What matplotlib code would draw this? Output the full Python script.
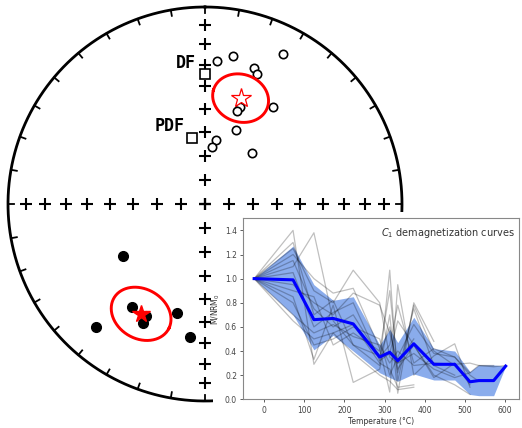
import numpy as np
import matplotlib
matplotlib.use("Agg")
import matplotlib.pyplot as plt
from matplotlib.patches import Rectangle


# --- stereonet data (declination, inclination in degrees; negative inc = upper hemisphere)
up_dec = [4.7, 10.6, 27.4, 19.9, 21.6, 35.2, 20.0, 18.8, 22.5, 9.6, 6.7, 42.3]
up_inc = [-27.8, -24.7, -15.4, -27.6, -29.7, -39.6, -46.5, -48.9, -56.6, -63.1, -66.1, -61.2]
dn_dec = [237.7, 215.4, 207.9, 207.4, 221.6, 194.5, 186.5]
dn_inc = [49.1, 35.9, 35.9, 32.4, 17.5, 42.2, 32.7]
mean_up = (18.6, -42.5)
a95_up = 10.7
mean_dn = (210.2, 35.4)
a95_dn = 11.5
ref_names = ["DF", "PDF"]
ref_dec = [0.0, 349.3]
ref_inc = [-34.5, -61.9]

# --- demagnetization curves
temps = [-25, 72, 124, 172, 222, 288, 313, 333, 373, 423, 475, 513, 535, 572, 602]
mean_curve = [1.0, 0.99, 0.66, 0.67, 0.625, 0.35, 0.39, 0.32, 0.46, 0.29, 0.29, 0.145, 0.155, 0.155, 0.275]
band_hi = [1.0, 1.27, 0.95, 0.82, 0.85, 0.45, 0.58, 0.47, 0.68, 0.42, 0.40, 0.23, 0.285, 0.285, 0.275]
band_lo = [1.0, 0.70, 0.41, 0.53, 0.40, 0.22, 0.18, 0.15, 0.21, 0.16, 0.16, 0.04, 0.03, 0.03, 0.275]
specimens = [
    [1.0, 1.40, 0.29, 0.55, 0.62, 0.30, 0.25, 0.10, 0.12],
    [1.0, 1.10, 1.38, 0.65, 0.45, 0.28, 1.07, 0.15, 0.78, 0.40, 0.28],
    [1.0, 1.25, 0.90, 0.80, 1.07, 0.80, 0.35, 0.30, 0.50],
    [1.0, 0.85, 0.33, 0.78, 0.14, 0.25, 0.70, 0.05, 0.80, 0.48],
    [1.0, 1.20, 1.00, 0.88, 0.92, 0.42, 0.06, 0.95, 0.20, 0.36, 0.46, 0.10],
    [1.0, 0.70, 0.55, 0.62, 0.52, 0.45, 0.30, 0.40, 0.28, 0.30, 0.29, 0.30, 0.28, 0.27, 0.28],
    [1.0, 0.95, 0.80, 0.70, 0.88, 0.78, 0.55, 0.30, 0.38, 0.25, 0.18, 0.22],
    [1.0, 0.65, 0.50, 0.55, 0.38, 0.20, 0.15, 0.08, 0.10],
    [1.0, 1.15, 0.75, 0.60, 0.70, 0.35, 0.45, 0.78, 0.30, 0.42, 0.35, 0.20, 0.15],
    [1.0, 0.90, 0.85, 0.45, 0.55, 0.40, 0.90, 0.25, 0.45, 0.20, 0.12, 0.04],
    [1.0, 1.05, 0.60, 0.72, 0.80, 0.32, 0.38, 0.65, 0.45, 0.18, 0.30, 0.12],
    [1.0, 0.80, 0.45, 0.50, 0.60, 0.50, 0.20, 0.35, 0.62, 0.38, 0.35, 0.22, 0.28, 0.28],
    [1.0, 1.30, 0.70, 0.82, 0.45, 0.36, 0.60, 0.22, 0.75, 0.28, 0.20],
]


def project(dec, inc):
    """Equal-area (Schmidt) projection, unit primitive radius."""
    dec = np.radians(np.asarray(dec, dtype=float))
    inc = np.radians(np.abs(np.asarray(inc, dtype=float)))
    r = np.sqrt(2) * np.sin((np.pi / 2 - inc) / 2)
    return r * np.sin(dec), r * np.cos(dec)


def cone(dec, inc, a95, n=200):
    """Circle of confidence around a direction, returned as projected x, y."""
    d, i, a = np.radians(dec), np.radians(inc), np.radians(a95)
    m = np.array([np.cos(i) * np.cos(d), np.cos(i) * np.sin(d), np.sin(i)])
    u = np.cross(m, [0, 0, 1.0])
    u /= np.linalg.norm(u)
    v = np.cross(m, u)
    t = np.linspace(0, 2 * np.pi, n)
    p = (np.cos(a) * m[:, None] + np.sin(a) * (np.outer(u, np.cos(t)) + np.outer(v, np.sin(t))))
    pdec = np.degrees(np.arctan2(p[1], p[0]))
    pinc = np.degrees(np.arcsin(np.clip(p[2], -1, 1)))
    return project(pdec, pinc)


W, H = 522, 428
fig = plt.figure(figsize=(W / 100, H / 100), dpi=100)

# main stereonet axes, centre at pixel (205, 204), radius 197 px
R = 197.0
ext = 1.04
cx, cy = 205.0, H - 204.0
ax = fig.add_axes([(cx - ext * R) / W, (cy - ext * R) / H, 2 * ext * R / W, 2 * ext * R / H])
ax.set_xlim(-ext, ext)
ax.set_ylim(-ext, ext)
ax.set_aspect("equal")
ax.axis("off")

t = np.linspace(0, 2 * np.pi, 400)
ax.plot(np.sin(t), np.cos(t), color="k", lw=2)
for az in np.radians(np.arange(0, 360, 10)):
    ax.plot([np.sin(az), 0.97 * np.sin(az)], [np.cos(az), 0.97 * np.cos(az)], color="k", lw=1.3)

cross_inc = np.arange(10, 91, 10)
for d in [0, 90, 180, 270]:
    x, y = project(np.full(len(cross_inc), d), cross_inc)
    ax.plot(x, y, "+", color="k", ms=9, mew=1.5)

x, y = project(up_dec, up_inc)
ax.plot(x, y, "o", mfc="white", mec="k", ms=6, mew=1.2)
x, y = project(dn_dec, dn_inc)
ax.plot(x, y, "o", color="k", ms=7)

x, y = project(ref_dec, ref_inc)
ax.plot(x, y, "s", mfc="white", mec="k", ms=7.5, mew=1.2)
offsets = [(-6.5, 8), (-5.5, 8.3)]
for name, xx, yy, off in zip(ref_names, x, y, offsets):
    ax.annotate(name, (xx, yy), xytext=off, textcoords="offset points", ha="right", va="center",
                family="DejaVu Sans Mono", weight="bold", fontsize=12)

ex, ey = cone(*mean_up, a95_up)
ax.plot(ex, ey, color="red", lw=2.1)
ex, ey = cone(*mean_dn, a95_dn)
ax.plot(ex, ey, color="red", lw=2.1)
x, y = project([mean_up[0]], [mean_up[1]])
ax.plot(x, y, "*", mfc="white", mec="red", ms=15, mew=0.9)
x, y = project([mean_dn[0]], [mean_dn[1]])
ax.plot(x, y, "*", color="red", ms=13)

# white backing for the inset
fig.patches.append(Rectangle((213 / W, 0), (W - 213) / W, (H - 212) / H, transform=fig.transFigure,
                             facecolor="white", edgecolor="none", zorder=1))

# inset demagnetization plot
ax2 = fig.add_axes([243.3 / W, (H - 399.3) / H, 276 / W, 181 / H], zorder=2)
ax2.fill_between(temps, band_lo, band_hi, color="#6d97e8", alpha=0.8, lw=0)
for s in specimens:
    ax2.plot(temps[:len(s)], s, color="k", alpha=0.25, lw=0.9)
ax2.plot(temps, mean_curve, color="blue", lw=2.2)
ax2.set_xlim(-52, 636)
ax2.set_ylim(0, 1.5)
ax2.set_xticks(np.arange(0, 601, 100))
ax2.set_yticks(np.arange(0, 1.41, 0.2))
ax2.yaxis.set_major_formatter(matplotlib.ticker.FormatStrFormatter("%.1f"))
ax2.tick_params(labelsize=5.5, length=2.5, width=0.6, pad=2, colors="#444444")
for sp in ax2.spines.values():
    sp.set_color("#888888")
    sp.set_linewidth(0.8)
ax2.set_xlabel("Temperature (°C)", fontsize=5.5, color="#333333", labelpad=2)
ax2.set_ylabel("M/NRM$_0$", fontsize=5.5, color="#333333", labelpad=2)
ax2.text(0.985, 0.955, "$C_1$ demagnetization curves", transform=ax2.transAxes, ha="right", va="top",
         fontsize=7, color="#333333")

fig.savefig("out.png", dpi=100)
